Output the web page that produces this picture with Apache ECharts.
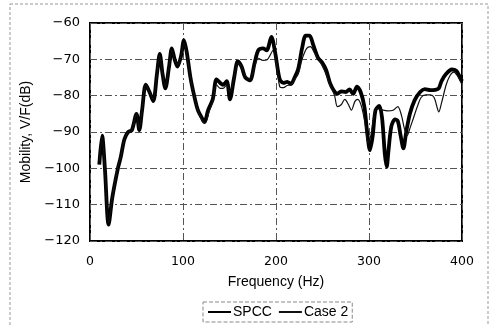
<!DOCTYPE html>
<html>
<head>
<meta charset="utf-8">
<script src="https://cdn.jsdelivr.net/npm/echarts@6/dist/echarts.min.js"></script>
<style>
  html, body { margin: 0; padding: 0; background: #fff; }
  #chart { width: 489px; height: 325px; }
</style>
</head>
<body>
<div id="chart"></div>
<script>
// frequency (Hz), mobility (dB)
const spccFreq = [10,13,16,20,24,30,33,37,41,45,50,53,56,60,64,68,72,75,78,81,85,88,91,94,98,101,104,108,112,116,120,123,127,132,136,140,143,147,150.5,155,159,163,167,172,177,181,186,190,195,199,204,208,212,216,220,224,228,232,236,240,245,250,254,258,262,266,270,275,279,283,287,291,295,298,301,304,307,311,314,317,319,321,324,328,331,334,337,340,344,349,355,360,366,371,375,378,383,389,394,398,400];
const spccVal = [-99,-91,-100,-115.5,-108,-100,-97,-92,-90,-89.5,-85,-89.5,-84,-77,-79,-81.5,-74,-68.5,-74,-78,-72,-67,-70,-72,-69,-64.7,-68,-75,-80,-84,-86,-87.3,-84,-81,-75.5,-76.5,-77,-76,-81,-75,-70.5,-72,-75,-75.8,-71,-67.5,-67,-67.5,-63.8,-68,-75.5,-76.5,-76.2,-76.8,-75,-72.5,-67,-63.5,-63.5,-66,-69.5,-71,-73,-76.5,-78.5,-79.5,-78.8,-79,-78.3,-79.5,-77.5,-79,-83,-90,-95,-91,-84,-82.8,-86,-96,-99.6,-95,-88.5,-86.5,-87,-91,-94.5,-90,-85,-81.3,-79,-78.2,-78.5,-78.4,-78,-76,-74,-72.8,-73.2,-75,-76];

const case2Freq = [10,13,16,20,24,30,33,37,41,45,50,53,56,60,64,68,72,75,78,81,85,88,91,94,98,101,104,108,112,116,120,124,128,132,136,140,143,147,150.5,155,159,163,167,172,177,181,186,190,197,201,204,208,212,216,220,224,228,233,237,241,247,252,258,263,266,270,274,278,281,285,288,292,296,299,302,305,308,315,320,326,331,335,338,341,344,348,352,356,361,366,370,373,375,378,383,387,391,395,400];
const case2Val = [-98,-91.5,-100,-115,-108,-99.5,-97,-92,-90,-89.5,-85,-89,-84,-77,-79,-81,-74,-69,-74,-77.5,-72,-67.5,-70,-71.5,-69,-65.5,-68.5,-75,-80,-84,-86.5,-87.5,-84.5,-81.5,-77,-78,-78,-77,-79,-75,-71,-72,-74.5,-75.5,-72,-69.7,-70.3,-70.2,-67.5,-72,-77.5,-77.8,-77.2,-77,-75.5,-74,-70,-67,-66.5,-68,-70.5,-73,-76.8,-80,-83,-82.5,-81,-82.5,-84,-81.5,-81,-83,-88,-93,-91,-86,-83.5,-84,-84.2,-84,-83,-85.5,-89,-91,-89,-86,-83,-80.5,-79.8,-79.8,-80.5,-83,-84.5,-82,-77,-74.5,-73.5,-74.5,-77];

const xTicks = [0, 100, 200, 300, 400];
const yTicks = [-120, -110, -100, -90, -80, -70, -60];

const pair = (xs, ys) => xs.map((x, i) => [x, ys[i]]);

const font = '"Liberation Sans", Arial, sans-serif';
const numFont = '"DejaVu Sans", sans-serif';
const gridLine = { color: '#555', width: 1, type: [7, 3, 2, 3] };

const chart = echarts.init(document.getElementById('chart'));
chart.setOption({
  animation: false,
  backgroundColor: '#fff',
  textStyle: { fontFamily: font, color: '#000' },
  graphic: [{
    type: 'rect',
    shape: { x: 10, y: 4, width: 478, height: 340 },
    style: { fill: 'none', stroke: '#999', lineWidth: 1, lineDash: [3, 2] },
    silent: true
  }],
  grid: {
    left: 90, right: 27, top: 23, bottom: 84,
    show: true, borderColor: '#000', borderWidth: 2, backgroundColor: 'transparent'
  },
  legend: {
    data: ['SPCC', 'Case 2'],
    left: 203, top: 302,
    itemWidth: 23, itemHeight: 14, itemGap: 6,
    padding: [3, 4],
    itemStyle: { opacity: 0 },
    borderColor: '#888', borderWidth: 1, borderType: 'dashed',
    textStyle: { fontFamily: font, fontSize: 14, color: '#000', padding: [0, 0, 0, -3] }
  },
  xAxis: {
    type: 'value',
    min: xTicks[0], max: xTicks[xTicks.length - 1], interval: 100,
    name: 'Frequency (Hz)',
    nameLocation: 'middle', nameGap: 34,
    nameTextStyle: { fontFamily: font, fontSize: 14, color: '#000' },
    axisLine: { show: false },
    axisTick: { show: false },
    axisLabel: { margin: 14, fontSize: 12.5, color: '#000', fontFamily: numFont },
    splitLine: { show: true, lineStyle: gridLine }
  },
  yAxis: {
    type: 'value',
    min: yTicks[0], max: yTicks[yTicks.length - 1], interval: 10,
    name: 'Mobility, V/F(dB)',
    nameLocation: 'middle', nameGap: 52, nameRotate: 90,
    nameTextStyle: { fontFamily: font, fontSize: 14, color: '#000' },
    axisLine: { show: false },
    axisTick: { show: false },
    axisLabel: {
      margin: 10, fontSize: 13, color: '#000', fontFamily: numFont,
      formatter: v => String(v).replace('-', '\u2212')
    },
    splitLine: { show: true, lineStyle: gridLine }
  },
  series: [
    {
      name: 'SPCC', type: 'line', smooth: 0.3, symbol: 'none',
      data: pair(spccFreq, spccVal),
      lineStyle: { color: '#000', width: 3.8 },
      itemStyle: { color: '#000' },
      z: 3
    },
    {
      name: 'Case 2', type: 'line', smooth: 0.3, symbol: 'none',
      data: pair(case2Freq, case2Val),
      lineStyle: { color: '#111', width: 1.2 },
      itemStyle: { color: '#111' },
      z: 4
    }
  ]
});
</script>
</body>
</html>
